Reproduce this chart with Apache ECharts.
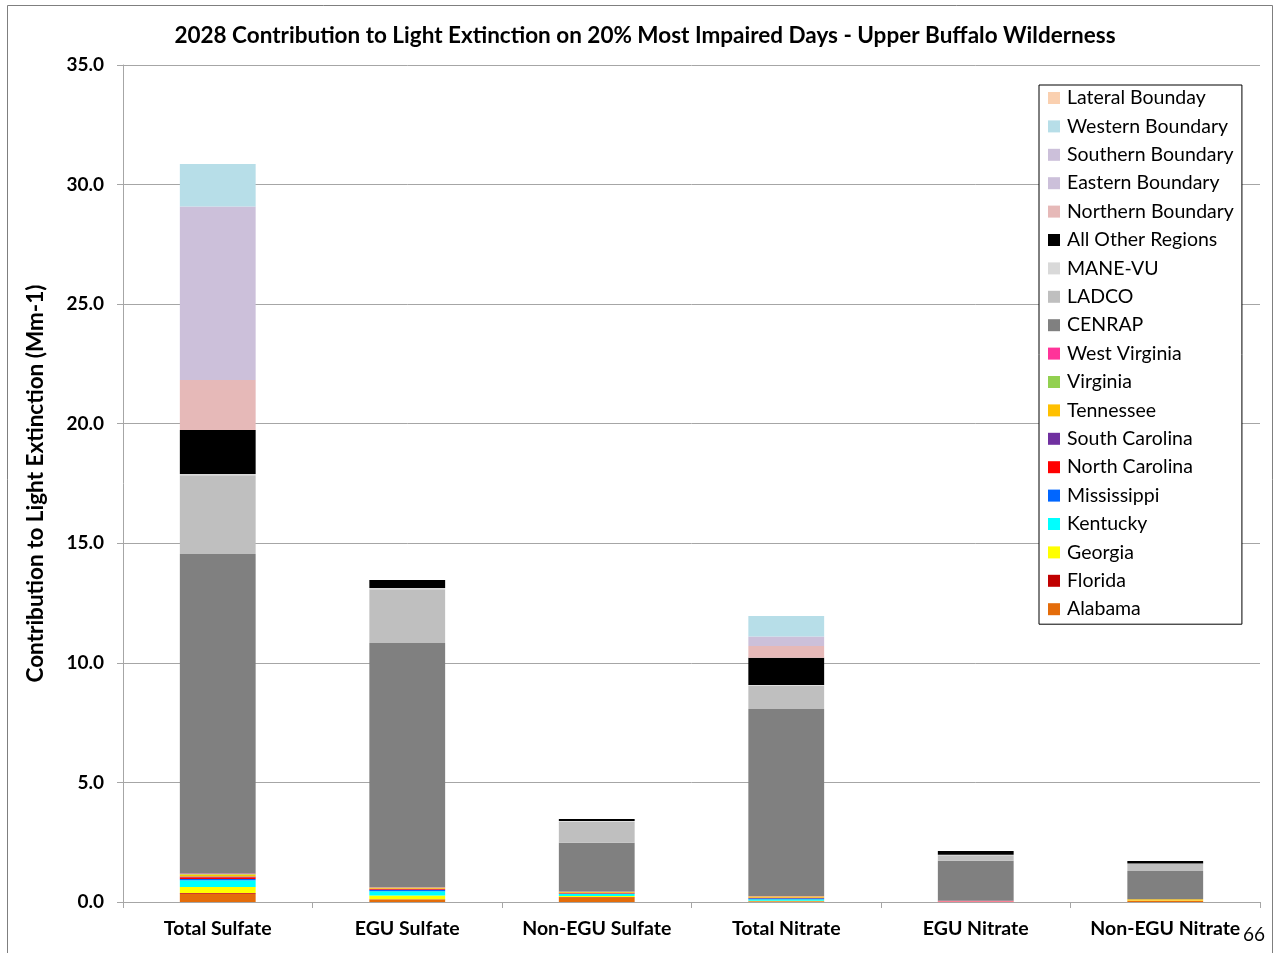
<!DOCTYPE html>
<html>
<head>
<meta charset="utf-8">
<script src="https://cdn.jsdelivr.net/npm/echarts@6/dist/echarts.min.js"></script>
<style>
html,body{margin:0;padding:0;background:#fff;}
#chart{width:1277px;height:953px;}
</style>
</head>
<body>
<div id="chart"></div>
<script>
const categories = ['Total Sulfate','EGU Sulfate','Non-EGU Sulfate','Total Nitrate','EGU Nitrate','Non-EGU Nitrate'];
const yTicks = [0,5,10,15,20,25,30,35];

const alabama       = [0.35, 0.10, 0.20, 0.02, 0.01, 0.05];
const florida       = [0.03, 0.02, 0.01, 0.01, 0.00, 0.00];
const georgia       = [0.25, 0.15, 0.04, 0.02, 0.00, 0.01];
const kentucky      = [0.28, 0.18, 0.10, 0.07, 0.00, 0.00];
const mississippi   = [0.05, 0.05, 0.01, 0.04, 0.00, 0.00];
const northCarolina = [0.07, 0.03, 0.02, 0.01, 0.00, 0.00];
const southCarolina = [0.04, 0.02, 0.01, 0.01, 0.00, 0.00];
const tennessee     = [0.08, 0.05, 0.03, 0.05, 0.01, 0.05];
const virginia      = [0.02, 0.01, 0.01, 0.01, 0.00, 0.00];
const westVirginia  = [0.02, 0.01, 0.01, 0.01, 0.03, 0.00];
const cenrap        = [13.36, 10.21, 2.04, 7.82, 1.67, 1.19];
const ladco         = [3.30, 2.25, 0.88, 0.97, 0.24, 0.29];
const maneVu        = [0.05, 0.05, 0.03, 0.03, 0.02, 0.02];
const allOther      = [1.84, 0.33, 0.08, 1.14, 0.15, 0.10];
const northern      = [2.09, 0.00, 0.00, 0.49, 0.00, 0.00];
const eastern       = [0.00, 0.00, 0.00, 0.00, 0.00, 0.00];
const southern      = [7.25, 0.00, 0.00, 0.40, 0.00, 0.00];
const western       = [1.78, 0.00, 0.00, 0.86, 0.00, 0.00];
const lateral       = [0.00, 0.00, 0.00, 0.00, 0.00, 0.00];

const seriesDefs = [
  ['Alabama', alabama, '#E46C0A'],
  ['Florida', florida, '#C00000'],
  ['Georgia', georgia, '#FFFF00'],
  ['Kentucky', kentucky, '#00FFFF'],
  ['Mississippi', mississippi, '#0066FF'],
  ['North Carolina', northCarolina, '#FF0000'],
  ['South Carolina', southCarolina, '#7030A0'],
  ['Tennessee', tennessee, '#FFC000'],
  ['Virginia', virginia, '#92D050'],
  ['West Virginia', westVirginia, '#FF3399'],
  ['CENRAP', cenrap, '#808080'],
  ['LADCO', ladco, '#BFBFBF'],
  ['MANE-VU', maneVu, '#D9D9D9'],
  ['All Other Regions', allOther, '#000000'],
  ['Northern Boundary', northern, '#E6B9B8'],
  ['Eastern Boundary', eastern, '#CCC0DA'],
  ['Southern Boundary', southern, '#CCC0DA'],
  ['Western Boundary', western, '#B7DEE8'],
  ['Lateral Bounday', lateral, '#FAD0B0']
];

const FONT = 'Lato, "Open Sans", sans-serif';
const chart = echarts.init(document.getElementById('chart'), null, {renderer:'canvas'});
const option = {
  animation: false,
  backgroundColor: '#fff',
  title: {
    text: '2028 Contribution to Light Extinction on 20% Most Impaired Days - Upper Buffalo Wilderness',
    left: 640, top: 19, textAlign: 'center',
    textStyle: {fontFamily: FONT, fontWeight: 'bold', fontSize: 22.5, color: '#000'}
  },
  graphic: [
    {type:'rect', shape:{x:7.5, y:5.5, width:1265, height:960}, style:{fill:'none', stroke:'#7f7f7f', lineWidth:1}, silent:true},
    {type:'text', left: 1243, top: 925, style:{text:'66', font:'19px ' + FONT, fill:'#000'}}
  ],
  legend: {
    orient: 'vertical',
    left: 1039, top: 85,
    data: seriesDefs.map(d => d[0]).reverse(),
    itemWidth: 12, itemHeight: 12, itemGap: 8.4,
    icon: 'rect',
    padding: [3, 8, 5, 9],
    backgroundColor: '#fff',
    borderColor: '#000', borderWidth: 1,
    borderRadius: 0,
    textStyle: {fontFamily: FONT, fontSize: 19.5, color: '#000', lineHeight: 18, padding:[0,0,0,2]}
  },
  grid: {left: 123, right: 17, top: 65, bottom: 51, containLabel: false},
  xAxis: {
    type: 'category',
    data: categories,
    axisLine: {lineStyle: {color: '#a6a6a6', width: 1}},
    axisTick: {show: true, length: 6, interval: 0, lineStyle: {color: '#a6a6a6'}},
    axisLabel: {interval: 0, fontFamily: FONT, fontWeight: 'bold', fontSize: 19.5, color: '#000', margin: 17}
  },
  yAxis: {
    type: 'value', min: 0, max: 35, interval: 5,
    name: 'Contribution to Light Extinction (Mm-1)',
    nameLocation: 'middle', nameGap: 76, nameRotate: 90,
    nameTextStyle: {fontFamily: FONT, fontWeight: 'bold', fontSize: 22.5, color: '#000'},
    axisLine: {show: true, lineStyle: {color: '#a6a6a6'}},
    axisTick: {show: true, length: 6, lineStyle: {color: '#a6a6a6'}},
    splitLine: {lineStyle: {color: '#a6a6a6', width: 1}},
    axisLabel: {fontFamily: FONT, fontWeight: 'bold', fontSize: 19, color: '#000', margin: 19,
      formatter: v => v.toFixed(1)}
  },
  series: seriesDefs.map(([name, data, color]) => ({
    name, type: 'bar', stack: 'total', data,
    barWidth: '40%',
    itemStyle: {color},
    emphasis: {disabled: true}
  }))
};
chart.setOption(option);
</script>
</body>
</html>
